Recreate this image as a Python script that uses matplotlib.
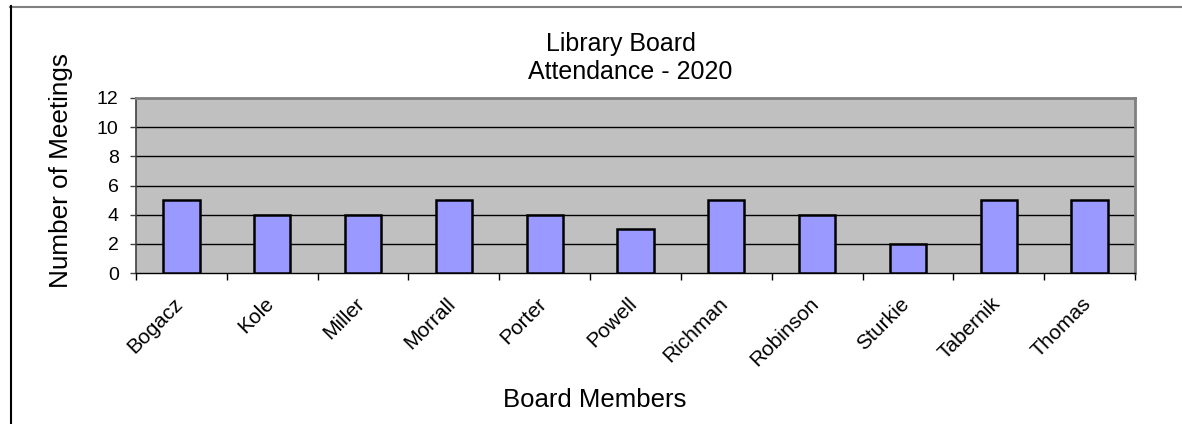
import matplotlib
matplotlib.use("Agg")
import matplotlib.pyplot as plt
from matplotlib.lines import Line2D
from matplotlib.transforms import ScaledTranslation

members = ["Bogacz", "Kole", "Miller", "Morrall", "Porter", "Powell",
           "Richman", "Robinson", "Sturkie", "Tabernik", "Thomas"]
meetings = [5, 4, 4, 5, 4, 3, 5, 4, 2, 5, 5]
yticks = [0, 2, 4, 6, 8, 10, 12]
title_lines = ["Library Board", "Attendance - 2020"]

plt.rcParams['font.family'] = ['Liberation Sans', 'DejaVu Sans']

W, H = 1182, 424
fig = plt.figure(figsize=(W / 100, H / 100), dpi=100)

def fx(px):
    return px / W

def fy(py):
    return 1 - py / H

# chart-area border (only top and left visible in the reference)
fig.lines.append(Line2D([fx(10), 1.0], [fy(6.5), fy(6.5)], transform=fig.transFigure,
                        color='#808080', linewidth=1.5))
fig.lines.append(Line2D([fx(10.5), fx(10.5)], [fy(6), 0.0], transform=fig.transFigure,
                        color='black', linewidth=1.5))

left, right, top, bottom = 136, 1135, 98, 273
ax = fig.add_axes([fx(left), fy(bottom), (right - left) / W, (bottom - top) / H])
ax.set_facecolor('#C0C0C0')

x = list(range(len(members)))
ax.bar(x, meetings, width=0.4, color='#9999FF', edgecolor='black', linewidth=1.8, zorder=3)

ax.set_xlim(-0.5, len(members) - 0.5)
ax.set_ylim(0, 12)
ax.set_yticks(yticks)
ax.set_yticklabels([str(v) for v in yticks], fontsize=14)
for v in yticks[1:-1]:
    ax.axhline(v, color='black', linewidth=1, zorder=1)

ax.set_xticks([i - 0.5 for i in range(len(members) + 1)], minor=False)
ax.set_xticklabels([])
ax.set_xticks(x, minor=True)
ax.set_xticklabels(members, minor=True, rotation=45, ha='right', va='top',
                   rotation_mode='anchor', fontsize=15)
ax.tick_params(axis='x', which='minor', length=0, pad=15)
ax.tick_params(axis='x', which='major', length=5, width=1, direction='out', color='black')
ax.tick_params(axis='y', length=4.5, width=1, direction='out', pad=8, color='#404040')
shift = ScaledTranslation(-8 / 100, 0, fig.dpi_scale_trans)
for lab in ax.get_xticklabels(minor=True):
    lab.set_transform(lab.get_transform() + shift)

for s in ['top', 'right']:
    ax.spines[s].set_color('#808080')
    ax.spines[s].set_linewidth(2)
ax.spines['left'].set_color('#404040')
ax.spines['left'].set_linewidth(1.2)
ax.spines['bottom'].set_color('black')
ax.spines['bottom'].set_linewidth(1)

fig.text(fx(621), fy(51), title_lines[0], ha='center', va='baseline', fontsize=18)
fig.text(fx(630), fy(79), title_lines[1], ha='center', va='baseline', fontsize=18)
fig.text(fx(61), fy(170), "Number of Meetings", rotation=90, ha='center', va='center',
         fontsize=18.8)
fig.text(fx(595), fy(407), "Board Members", ha='center', va='baseline', fontsize=18.5)

fig.savefig("out.png", dpi=100)
